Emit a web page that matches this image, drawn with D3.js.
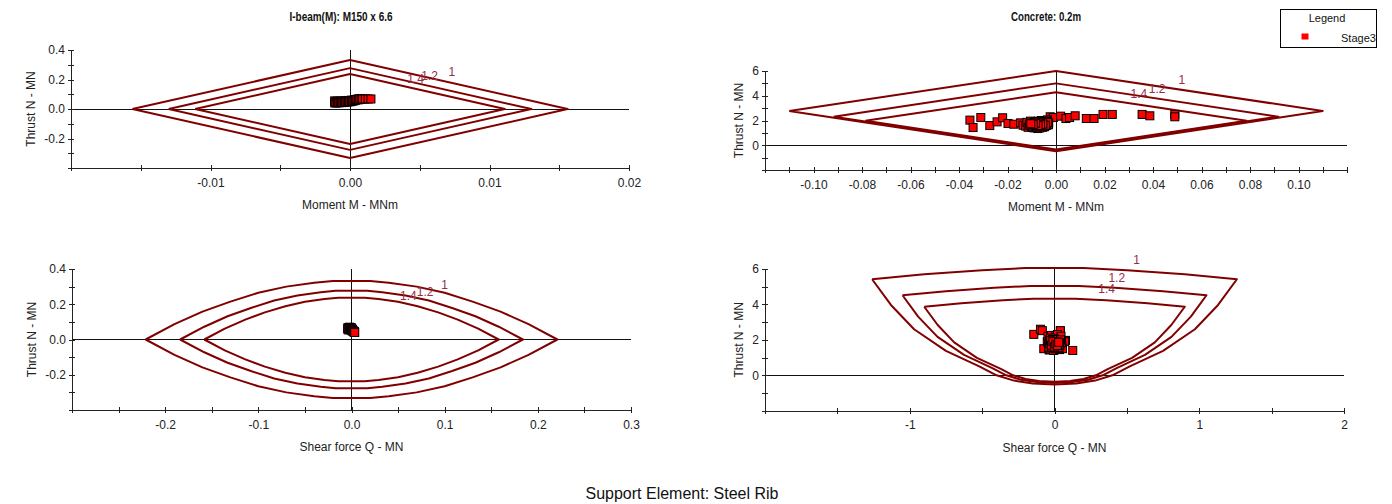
<!DOCTYPE html>
<html>
<head>
<meta charset="utf-8">
<script src="https://cdn.jsdelivr.net/npm/d3@7"></script>
<style>
    body { margin: 0; background: #fff; }
    svg { display: block; font-family: "Liberation Sans", Arial, sans-serif; }
</style>
</head>
<body>
<div id="chart"></div>
<script>
// Define SVG area dimensions
var svgWidth = 1392;
var svgHeight = 504;

// Factor of safety labels for the three envelopes
var fsLabels = ["1", "1.2", "1.4"];

// ---------- Steel rib, I-beam(M): M150 x 6.6 : Moment vs Thrust ----------
var steelMN_fs1 = [[-0.0156, 0], [0, 0.332], [0.0156, 0], [0, -0.332], [-0.0156, 0]];
var steelMN_fs12 = [[-0.0130, 0], [0, 0.277], [0.0130, 0], [0, -0.277], [-0.0130, 0]];
var steelMN_fs14 = [[-0.0111, 0], [0, 0.237], [0.0111, 0], [0, -0.237], [-0.0111, 0]];
var steelMN_labelAt = [[0.0073, 0.249], [0.0057, 0.224], [0.0047, 0.203]];
var steelM = [-0.0011, -0.0011, -0.0010, -0.0010, -0.0009, -0.0009, -0.0008, -0.0008, -0.0007, -0.0007,
    -0.0006, -0.0006, -0.0005, -0.0005, -0.0004, -0.0004, -0.0003, -0.0003, -0.0002, -0.0002,
    -0.0001, -0.0001, 0.0000, 0.0000, 0.0001, 0.0001, 0.0002, 0.0002, 0.0003, 0.0003,
    0.0004, 0.0004, 0.0005, 0.0005, 0.0006, 0.0006, 0.0007, 0.0008, 0.0009, 0.0011, 0.0013, 0.0015];
var steelN_M = [0.055, 0.042, 0.050, 0.040, 0.054, 0.044, 0.050, 0.042, 0.053, 0.045,
    0.049, 0.043, 0.055, 0.046, 0.052, 0.045, 0.056, 0.048, 0.054, 0.047,
    0.058, 0.050, 0.056, 0.049, 0.060, 0.052, 0.058, 0.054, 0.062, 0.056,
    0.060, 0.064, 0.064, 0.066, 0.068, 0.062, 0.070, 0.066, 0.068, 0.068, 0.068, 0.068];
var tlXTicks = [-0.02, -0.015, -0.01, -0.005, 0, 0.005, 0.01, 0.015, 0.02];
var tlXTickLabels = ["", "", "-0.01", "", "0.00", "", "0.01", "", "0.02"];
var tlYTicks = [-0.4, -0.3, -0.2, -0.1, 0, 0.1, 0.2, 0.3, 0.4];
var tlYTickLabels = ["", "", "-0.2", "", "0.0", "", "0.2", "", "0.4"];

// ---------- Concrete 0.2m : Moment vs Thrust ----------
var concMN_fs1 = [[-0.110, 2.77], [0, 6.0], [0.110, 2.77], [0, -0.48], [-0.110, 2.77]];
var concMN_fs12 = [[-0.0917, 2.31], [0, 5.0], [0.0917, 2.31], [0, -0.40], [-0.0917, 2.31]];
var concMN_fs14 = [[-0.0786, 1.98], [0, 4.28], [0.0786, 1.98], [0, -0.34], [-0.0786, 1.98]];
var concMN_labelAt = [[0.0519, 5.27], [0.0417, 4.60], [0.0342, 4.12]];
var concM = [-0.0355, -0.0342, -0.031, -0.0273, -0.0243, -0.022, -0.0198, -0.0174, -0.0146, -0.0136,
    -0.0024, -0.0011, 0.0019, 0.0041, 0.0056, 0.0079, 0.0125, 0.0157, 0.0194, 0.0232, 0.0355, 0.0387, 0.049, 0.049,
    -0.0125, -0.012, -0.0115, -0.011, -0.0105, -0.010, -0.0095, -0.009, -0.0085, -0.008,
    -0.0075, -0.007, -0.0065, -0.006, -0.0055, -0.005, -0.0045, -0.004, -0.0035, -0.003,
    -0.0108, -0.0102, -0.0097, -0.0092, -0.0087, -0.0082, -0.0077, -0.0072, -0.0067, -0.0062,
    -0.0057, -0.0052, -0.0047, -0.0042, -0.0037, -0.0032,
    -0.0100, -0.0096, -0.0091, -0.0086, -0.0081, -0.0076, -0.0071, -0.0066, -0.0061, -0.0056,
    -0.0051, -0.0046, -0.0041, -0.0036, -0.0031, -0.0099, -0.0089, -0.0079, -0.0069, -0.0059,
    -0.0049, -0.0039, -0.0034, -0.0044, -0.0054, -0.0064, -0.0074, -0.0084, -0.0094, -0.0104];
var concN_M = [2.03, 1.43, 2.24, 1.59, 1.89, 2.22, 1.76, 1.70, 1.81, 1.62,
    2.30, 2.24, 2.35, 2.16, 2.24, 2.38, 2.16, 2.16, 2.49, 2.49, 2.49, 2.38, 2.49, 2.30,
    1.55, 1.85, 1.45, 1.70, 1.95, 1.50, 1.75, 1.40, 1.90, 1.60,
    1.35, 1.80, 1.55, 2.00, 1.45, 1.70, 1.90, 1.60, 2.05, 1.80,
    1.60, 1.80, 1.45, 1.65, 1.85, 1.50, 1.70, 1.95, 1.40, 1.75,
    1.60, 1.85, 1.50, 1.75, 1.95, 1.65,
    1.70, 1.55, 1.80, 1.62, 1.48, 1.88, 1.58, 1.72, 1.52, 1.82,
    1.66, 1.56, 1.78, 1.92, 1.70, 1.64, 1.76, 1.58, 1.68, 1.86,
    1.54, 1.74, 1.84, 1.62, 1.72, 1.66, 1.60, 1.78, 1.68, 1.74];
var trXTicks = [-0.12, -0.11, -0.10, -0.09, -0.08, -0.07, -0.06, -0.05, -0.04, -0.03, -0.02, -0.01, 0,
    0.01, 0.02, 0.03, 0.04, 0.05, 0.06, 0.07, 0.08, 0.09, 0.10, 0.11, 0.12];
var trXTickLabels = ["", "", "-0.10", "", "-0.08", "", "-0.06", "", "-0.04", "", "-0.02", "", "0.00",
    "", "0.02", "", "0.04", "", "0.06", "", "0.08", "", "0.10", "", ""];
var trYTicks = [-2, -1, 0, 1, 2, 3, 4, 5, 6];
var trYTickLabels = ["", "", "0", "", "2", "", "4", "", "6"];

// ---------- Steel rib : Shear vs Thrust ----------
var steelQN_fs1 = [[-0.221, 0], [-0.19, 0.087], [-0.16, 0.158], [-0.13, 0.215], [-0.10, 0.265], [-0.07, 0.300],
    [-0.04, 0.322], [-0.02, 0.332], [0.02, 0.332], [0.04, 0.322], [0.07, 0.300], [0.10, 0.265], [0.13, 0.215],
    [0.16, 0.158], [0.19, 0.087], [0.221, 0], [0.19, -0.087], [0.16, -0.158], [0.13, -0.215], [0.10, -0.265],
    [0.07, -0.300], [0.04, -0.322], [0.02, -0.332], [-0.02, -0.332], [-0.04, -0.322], [-0.07, -0.300],
    [-0.10, -0.265], [-0.13, -0.215], [-0.16, -0.158], [-0.19, -0.087], [-0.221, 0]];
var steelQN_fs12 = [[-0.184, 0], [-0.158, 0.0725], [-0.133, 0.132], [-0.108, 0.179], [-0.083, 0.221], [-0.058, 0.250],
    [-0.033, 0.268], [-0.017, 0.277], [0.017, 0.277], [0.033, 0.268], [0.058, 0.250], [0.083, 0.221], [0.108, 0.179],
    [0.133, 0.132], [0.158, 0.0725], [0.184, 0], [0.158, -0.0725], [0.133, -0.132], [0.108, -0.179], [0.083, -0.221],
    [0.058, -0.250], [0.033, -0.268], [0.017, -0.277], [-0.017, -0.277], [-0.033, -0.268], [-0.058, -0.250],
    [-0.083, -0.221], [-0.108, -0.179], [-0.133, -0.132], [-0.158, -0.0725], [-0.184, 0]];
var steelQN_fs14 = [[-0.158, 0], [-0.136, 0.062], [-0.114, 0.113], [-0.093, 0.154], [-0.071, 0.189], [-0.050, 0.214],
    [-0.029, 0.230], [-0.014, 0.237], [0.014, 0.237], [0.029, 0.230], [0.050, 0.214], [0.071, 0.189], [0.093, 0.154],
    [0.114, 0.113], [0.136, 0.062], [0.158, 0], [0.136, -0.062], [0.114, -0.113], [0.093, -0.154], [0.071, -0.189],
    [0.050, -0.214], [0.029, -0.230], [0.014, -0.237], [-0.014, -0.237], [-0.029, -0.230], [-0.050, -0.214],
    [-0.071, -0.189], [-0.093, -0.154], [-0.114, -0.113], [-0.136, -0.062], [-0.158, 0]];
var steelQN_labelAt = [[0.100, 0.313], [0.079, 0.271], [0.061, 0.249]];
var steelQ = [-0.0040, -0.0035, -0.0030, -0.0025, -0.0020, -0.0015, -0.0010, -0.0005, 0.0000, 0.0005,
    0.0010, 0.0015, 0.0020, 0.0025, 0.0030, -0.0040, -0.0030, -0.0020, -0.0010, 0.0000,
    0.0010, 0.0020, 0.0030, 0.0035];
var steelN_Q = [0.066, 0.062, 0.068, 0.064, 0.070, 0.066, 0.062, 0.068, 0.064, 0.060,
    0.056, 0.052, 0.048, 0.045, 0.042, 0.058, 0.054, 0.060, 0.056, 0.052,
    0.048, 0.044, 0.046, 0.040];
var blXTicks = [-0.3, -0.25, -0.2, -0.15, -0.1, -0.05, 0, 0.05, 0.1, 0.15, 0.2, 0.25, 0.3];
var blXTickLabels = ["", "", "-0.2", "", "-0.1", "", "0.0", "", "0.1", "", "0.2", "", "0.3"];
var blYTicks = [-0.4, -0.3, -0.2, -0.1, 0, 0.1, 0.2, 0.3, 0.4];
var blYTickLabels = ["", "", "-0.2", "", "0.0", "", "0.2", "", "0.4"];

// ---------- Concrete 0.2m : Shear vs Thrust ----------
var concQN_fs1 = [[-1.26, 5.42], [-0.9, 5.70], [-0.5, 5.93], [-0.2, 6.05], [0.2, 6.05], [0.5, 5.93], [0.9, 5.70],
    [1.26, 5.42], [1.13, 3.97], [0.97, 2.60], [0.75, 1.38], [0.52, 0.50], [0.40, 0.0], [0.28, -0.30], [0.15, -0.46],
    [0, -0.52], [-0.15, -0.46], [-0.28, -0.30], [-0.40, 0.0], [-0.52, 0.50], [-0.75, 1.38], [-0.97, 2.60],
    [-1.13, 3.97], [-1.26, 5.42]];
var concQN_fs12 = [[-1.05, 4.52], [-0.75, 4.75], [-0.417, 4.94], [-0.167, 5.04], [0.167, 5.04], [0.417, 4.94],
    [0.75, 4.75], [1.05, 4.52], [0.942, 3.31], [0.808, 2.17], [0.625, 1.15], [0.433, 0.417], [0.333, 0.0],
    [0.233, -0.25], [0.125, -0.383], [0, -0.433], [-0.125, -0.383], [-0.233, -0.25], [-0.333, 0.0],
    [-0.433, 0.417], [-0.625, 1.15], [-0.808, 2.17], [-0.942, 3.31], [-1.05, 4.52]];
var concQN_fs14 = [[-0.90, 3.87], [-0.643, 4.07], [-0.357, 4.24], [-0.143, 4.32], [0.143, 4.32], [0.357, 4.24],
    [0.643, 4.07], [0.90, 3.87], [0.807, 2.84], [0.693, 1.86], [0.536, 0.986], [0.371, 0.357], [0.286, 0.0],
    [0.20, -0.214], [0.107, -0.329], [0, -0.371], [-0.107, -0.329], [-0.20, -0.214], [-0.286, 0.0],
    [-0.371, 0.357], [-0.536, 0.986], [-0.693, 1.86], [-0.807, 2.84], [-0.90, 3.87]];
var concQN_labelAt = [[0.568, 6.51], [0.43, 5.51], [0.36, 4.86]];
var concQ = [-0.143, -0.097, -0.084, 0.041, 0.040, 0.126, -0.074, 0.076, 0.070, -0.037,
    -0.05, -0.045, -0.04, -0.035, -0.03, -0.025, -0.02, -0.015, -0.01, -0.005, 0.0,
    0.005, 0.01, 0.015, 0.02, 0.025, 0.03, 0.035, 0.04, 0.045, 0.05, 0.055,
    -0.042, -0.032, -0.022, -0.012, -0.002, 0.008, 0.018, 0.028, 0.038, 0.048,
    -0.038, -0.028, -0.018, -0.008, 0.002, 0.012, 0.022, 0.032, 0.042, -0.033,
    -0.023, -0.013, -0.003, 0.007, 0.017, 0.027, 0.037, -0.027, -0.017, -0.007,
    0.003, 0.013, 0.023, 0.033, -0.021, -0.011, -0.001, 0.009, 0.019, 0.029];
var concN_Q = [2.31, 2.60, 2.52, 2.50, 2.52, 1.40, 1.50, 1.97, 1.90, 1.43,
    1.90, 2.20, 1.60, 2.00, 1.45, 1.80, 2.25, 1.55, 1.95, 1.40, 1.75,
    2.15, 1.50, 1.85, 2.30, 1.60, 2.00, 1.45, 1.80, 2.20, 1.65, 1.50,
    1.75, 1.65, 1.95, 1.70, 2.05, 1.80, 1.65, 1.90, 1.70, 1.85,
    1.55, 2.10, 1.70, 1.85, 1.60, 1.95, 1.75, 1.55, 2.00, 1.80,
    1.62, 2.02, 1.72, 1.52, 1.88, 1.68, 1.82, 1.95, 1.58, 1.78,
    1.66, 1.84, 1.56, 1.74, 1.70, 1.90, 1.60, 1.76, 1.68, 1.86];
var brXTicks = [-2, -1.5, -1, -0.5, 0, 0.5, 1, 1.5, 2];
var brXTickLabels = ["", "", "-1", "", "0", "", "1", "", "2"];
var brYTicks = [-2, -1, 0, 1, 2, 3, 4, 5, 6];
var brYTickLabels = ["", "", "0", "", "2", "", "4", "", "6"];

// Colours
var envelopeColor = "#800000";
var fsLabelColor = "#952f45";
var pointColor = "#ff0000";

// Create the SVG wrapper
var svg = d3.select("#chart")
    .append("svg")
    .attr("width", svgWidth)
    .attr("height", svgHeight);

// Draw one capacity panel
function drawPanel(p) {
    var x = d3.scaleLinear().domain(p.xDomain).range(p.xRange);
    var y = d3.scaleLinear().domain(p.yDomain).range(p.yRange);
    var g = svg.append("g");

    // zero lines
    g.append("line")
        .attr("x1", x(p.xDomain[0])).attr("x2", x(p.xDomain[1]))
        .attr("y1", y(0)).attr("y2", y(0))
        .attr("stroke", "#111").attr("stroke-width", 1).attr("shape-rendering", "crispEdges");
    g.append("line")
        .attr("x1", x(0)).attr("x2", x(0))
        .attr("y1", y(p.yDomain[0])).attr("y2", y(p.yDomain[1]))
        .attr("stroke", "#111").attr("stroke-width", 1).attr("shape-rendering", "crispEdges");

    // x axis
    var xAxis = g.append("g")
        .attr("transform", `translate(0,${y(p.yDomain[0])})`)
        .call(d3.axisBottom(x)
            .tickValues(p.xTicks)
            .tickSizeInner(3)
            .tickSizeOuter(0)
            .tickFormat((d, i) => p.xTickLabels[i]));
    xAxis.selectAll(".tick line").attr("y1", -3);
    xAxis.selectAll(".tick text").attr("y", 10).attr("dy", "0.71em");

    // y axis
    var yAxis = g.append("g")
        .attr("transform", `translate(${x(p.xDomain[0])},0)`)
        .call(d3.axisLeft(y)
            .tickValues(p.yTicks)
            .tickSizeInner(3)
            .tickSizeOuter(0)
            .tickFormat((d, i) => p.yTickLabels[i]));
    yAxis.selectAll(".tick line").attr("x1", 3);
    yAxis.selectAll(".tick text").attr("x", -6);

    [xAxis, yAxis].forEach(function(a) {
        a.attr("font-family", null).attr("font-size", 12);
        a.selectAll(".domain, .tick line").attr("stroke", "#222").attr("shape-rendering", "crispEdges");
        a.selectAll(".tick text").attr("fill", "#222");
    });

    // envelopes
    var line = d3.line().x(d => x(d[0])).y(d => y(d[1]));
    p.curves.forEach(function(c) {
        g.append("path")
            .datum(c)
            .attr("d", line)
            .attr("fill", "none")
            .attr("stroke", envelopeColor)
            .attr("stroke-width", 2)
            .attr("stroke-linejoin", "round");
    });

    // factor of safety labels
    g.selectAll(".fs")
        .data(p.labelAt)
        .enter().append("text")
        .attr("x", d => x(d[0]))
        .attr("y", d => y(d[1]))
        .attr("dy", "0.35em")
        .attr("text-anchor", "middle")
        .attr("font-size", 12)
        .attr("fill", fsLabelColor)
        .text((d, i) => fsLabels[i]);

    // stage points
    var s = 8;
    g.selectAll(".pt")
        .data(p.px)
        .enter().append("rect")
        .attr("x", d => x(d) - s / 2)
        .attr("y", (d, i) => y(p.py[i]) - s / 2)
        .attr("width", s)
        .attr("height", s)
        .attr("fill", pointColor)
        .attr("stroke", "#000")
        .attr("stroke-width", 1);

    // axis titles
    var cx = (p.xRange[0] + p.xRange[1]) / 2;
    g.append("text")
        .attr("x", cx)
        .attr("y", y(p.yDomain[0]) + 41)
        .attr("text-anchor", "middle")
        .attr("font-size", 12)
        .attr("fill", "#222")
        .text(p.xTitle);
    var cy = (p.yRange[0] + p.yRange[1]) / 2;
    g.append("text")
        .attr("transform", `translate(${x(p.xDomain[0]) - p.yTitleGap},${cy}) rotate(-90)`)
        .attr("text-anchor", "middle")
        .attr("font-size", 12)
        .attr("fill", "#222")
        .text("Thrust N - MN");

    // panel title, condensed bold
    if (p.title) {
        g.append("text")
            .attr("x", p.titleX)
            .attr("y", 21)
            .attr("text-anchor", "middle")
            .attr("font-size", 13)
            .attr("font-weight", "bold")
            .attr("textLength", p.titleWidth)
            .attr("lengthAdjust", "spacingAndGlyphs")
            .attr("fill", "#111")
            .text(p.title);
    }
}

drawPanel({
    xDomain: [-0.02, 0.02], xRange: [71, 629],
    yDomain: [-0.4, 0.4], yRange: [168, 50],
    xTicks: tlXTicks, xTickLabels: tlXTickLabels,
    yTicks: tlYTicks, yTickLabels: tlYTickLabels,
    curves: [steelMN_fs1, steelMN_fs12, steelMN_fs14],
    labelAt: steelMN_labelAt,
    px: steelM, py: steelN_M,
    xTitle: "Moment M - MNm", yTitleGap: 36,
    title: "I-beam(M): M150 x 6.6", titleX: 341, titleWidth: 103
});

drawPanel({
    xDomain: [-0.12, 0.12], xRange: [765, 1347],
    yDomain: [-2, 6], yRange: [170, 71],
    xTicks: trXTicks, xTickLabels: trXTickLabels,
    yTicks: trYTicks, yTickLabels: trYTickLabels,
    curves: [concMN_fs1, concMN_fs12, concMN_fs14],
    labelAt: concMN_labelAt,
    px: concM, py: concN_M,
    xTitle: "Moment M - MNm", yTitleGap: 22,
    title: "Concrete: 0.2m", titleX: 1046, titleWidth: 70
});

drawPanel({
    xDomain: [-0.3, 0.3], xRange: [72, 631],
    yDomain: [-0.4, 0.4], yRange: [410, 269],
    xTicks: blXTicks, xTickLabels: blXTickLabels,
    yTicks: blYTicks, yTickLabels: blYTickLabels,
    curves: [steelQN_fs1, steelQN_fs12, steelQN_fs14],
    labelAt: steelQN_labelAt,
    px: steelQ, py: steelN_Q,
    xTitle: "Shear force Q - MN", yTitleGap: 36
});

drawPanel({
    xDomain: [-2, 2], xRange: [765, 1344],
    yDomain: [-2, 6], yRange: [410.7, 269],
    xTicks: brXTicks, xTickLabels: brXTickLabels,
    yTicks: brYTicks, yTickLabels: brYTickLabels,
    curves: [concQN_fs1, concQN_fs12, concQN_fs14],
    labelAt: concQN_labelAt,
    px: concQ, py: concN_Q,
    xTitle: "Shear force Q - MN", yTitleGap: 22
});

// Legend
var legend = svg.append("g");
legend.append("rect")
    .attr("x", 1280.5).attr("y", 9.5)
    .attr("width", 96).attr("height", 38)
    .attr("fill", "#fff").attr("stroke", "#000").attr("stroke-width", 1);
legend.append("text")
    .attr("x", 1327).attr("y", 22)
    .attr("text-anchor", "middle")
    .attr("font-size", 11)
    .attr("fill", "#111")
    .text("Legend");
legend.append("rect")
    .attr("x", 1301.5).attr("y", 33.5)
    .attr("width", 7).attr("height", 6)
    .attr("fill", pointColor);
legend.append("text")
    .attr("x", 1341).attr("y", 41.5)
    .attr("font-size", 11)
    .attr("fill", "#111")
    .text("Stage3");

// Caption
svg.append("text")
    .attr("x", 682).attr("y", 499)
    .attr("text-anchor", "middle")
    .attr("font-size", 16)
    .attr("fill", "#111")
    .text("Support Element: Steel Rib");
</script>
</body>
</html>
